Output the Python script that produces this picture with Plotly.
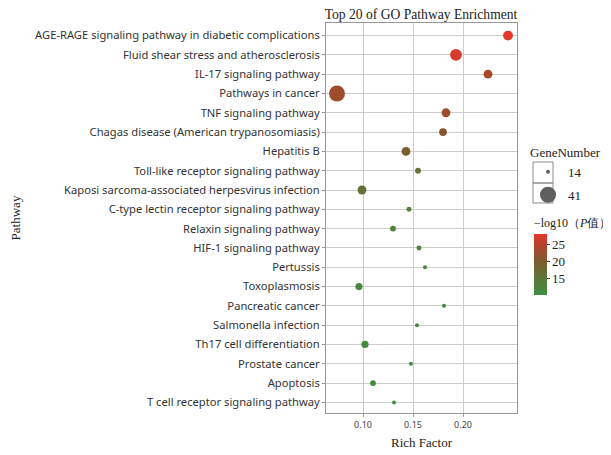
import plotly.graph_objects as go

pathways = [
    "AGE-RAGE signaling pathway in diabetic complications",
    "Fluid shear stress and atherosclerosis",
    "IL-17 signaling pathway",
    "Pathways in cancer",
    "TNF signaling pathway",
    "Chagas disease (American trypanosomiasis)",
    "Hepatitis B",
    "Toll-like receptor signaling pathway",
    "Kaposi sarcoma-associated herpesvirus infection",
    "C-type lectin receptor signaling pathway",
    "Relaxin signaling pathway",
    "HIF-1 signaling pathway",
    "Pertussis",
    "Toxoplasmosis",
    "Pancreatic cancer",
    "Salmonella infection",
    "Th17 cell differentiation",
    "Prostate cancer",
    "Apoptosis",
    "T cell receptor signaling pathway",
]
rich_factor = [0.245, 0.193, 0.225, 0.074, 0.183, 0.180, 0.143, 0.155, 0.099, 0.146,
               0.130, 0.156, 0.162, 0.096, 0.181, 0.154, 0.102, 0.148, 0.110, 0.131]
gene_number = [23, 28, 21, 41, 21, 19, 21, 16, 21, 15,
               16, 15, 14, 18, 14, 14, 18, 14, 16, 14]
neg_log10_p = [28.2, 27.0, 24.0, 23.0, 23.0, 21.0, 19.5, 16.0, 16.0, 13.0,
               12.5, 12.0, 11.5, 11.5, 10.5, 11.0, 11.0, 10.5, 10.5, 10.0]
size_breaks = [14, 41]
color_ticks = [15, 20, 25]

def diam(n):
    lo, hi = 4.0, 16.0
    a = lo**2 + (n - 14) * (hi**2 - lo**2) / (41 - 14)
    return a ** 0.5

colorscale = [[0.0, "#3E8F41"], [0.3, "#5F7436"], [0.55, "#7E5A2E"],
              [0.8, "#B0452C"], [1.0, "#E5382B"]]

serif = "Liberation Serif"
sans = "Noto Sans"

# page body has an 8px margin: work in window pixels, shifted by OFF
OFF = 8
W, H = 611 - OFF, 455 - OFF
L, R, T, B = 326 - OFF, 517 - OFF, 23 - OFF, 413 - OFF
PW, PH = R - L, B - T

def px_x(x):
    return (x - OFF - L) / PW

def px_y(y):
    return (B - (y - OFF)) / PH

fig = go.Figure()
fig.add_trace(go.Scatter(
    x=rich_factor, y=pathways, mode="markers", showlegend=False,
    marker=dict(size=[diam(g) for g in gene_number], sizemode="diameter",
                color=neg_log10_p, colorscale=colorscale, cmin=10, cmax=28.2,
                line=dict(width=0), opacity=1,
                colorbar=dict(
                    title=dict(text="−log10（<i>P</i>值）", side="top",
                               font=dict(family=serif, size=12, color="#222")),
                    x=px_x(534), xanchor="left", y=px_y(295), yanchor="bottom",
                    len=80, lenmode="pixels", thickness=13, ypad=0, xpad=0,
                    tickvals=color_ticks, ticks="outside", ticklen=3,
                    tickcolor="#333", outlinewidth=0,
                    tickfont=dict(family=serif, size=13, color="#222"))),
    hoverinfo="skip"))

for i, b in enumerate(size_breaks):
    fig.add_trace(go.Scatter(x=[None], y=[None], mode="markers", name=str(b),
                             legendgroup="g%d" % i,
                             marker=dict(size=diam(b), color="#5f5f5f")))

shapes = []
for (y0, y1) in [(162, 183), (183, 203)]:
    shapes.append(dict(type="rect", xref="paper", yref="paper",
                       x0=px_x(533), x1=px_x(553), y0=px_y(y1), y1=px_y(y0),
                       line=dict(color="#8a8a8a", width=1), fillcolor="rgba(0,0,0,0)",
                       layer="below"))

fig.update_layout(
    width=W, height=H,
    margin=dict(l=L, r=W - R, t=T, b=H - B, autoexpand=False),
    paper_bgcolor="white", plot_bgcolor="white",
    shapes=shapes,
    title=dict(text="Top 20 of GO Pathway Enrichment", x=px_x(421), xref="paper",
               xanchor="center", y=1 - 6.5 / H, yanchor="middle",
               font=dict(family=serif, size=13.6, color="#222")),
    legend=dict(title=dict(text="GeneNumber", font=dict(family=serif, size=13, color="#222")),
                x=px_x(528), xanchor="left", y=px_y(140), yanchor="top",
                itemsizing="trace", font=dict(family=serif, size=13, color="#222"),
                tracegroupgap=3, bgcolor="rgba(0,0,0,0)"),
    xaxis=dict(title=dict(text="Rich Factor", font=dict(family=serif, size=13, color="#222"),
                          standoff=8),
               range=[0.063, 0.254], tickvals=[0.10, 0.15, 0.20],
               ticktext=["0.10", "0.15", "0.20"],
               tickfont=dict(family=sans, size=9, color="#444"),
               showgrid=True, gridcolor="#cccccc", gridwidth=1,
               showline=True, linecolor="#999999", linewidth=1, mirror=True,
               ticks="outside", ticklen=3, tickcolor="#999999", zeroline=False,
               automargin=False),
    yaxis=dict(title=dict(text="Pathway", font=dict(family=serif, size=13, color="#222"),
                          standoff=22),
               categoryorder="array", categoryarray=pathways,
               range=[19.55, -0.65],
               tickfont=dict(family=sans, size=11.2, color="#333"),
               showgrid=True, gridcolor="#cccccc", gridwidth=1,
               showline=True, linecolor="#999999", linewidth=1, mirror=True,
               ticks="outside", ticklen=3, tickcolor="#999999", zeroline=False,
               automargin=False),
)

fig.write_html("out.html")
